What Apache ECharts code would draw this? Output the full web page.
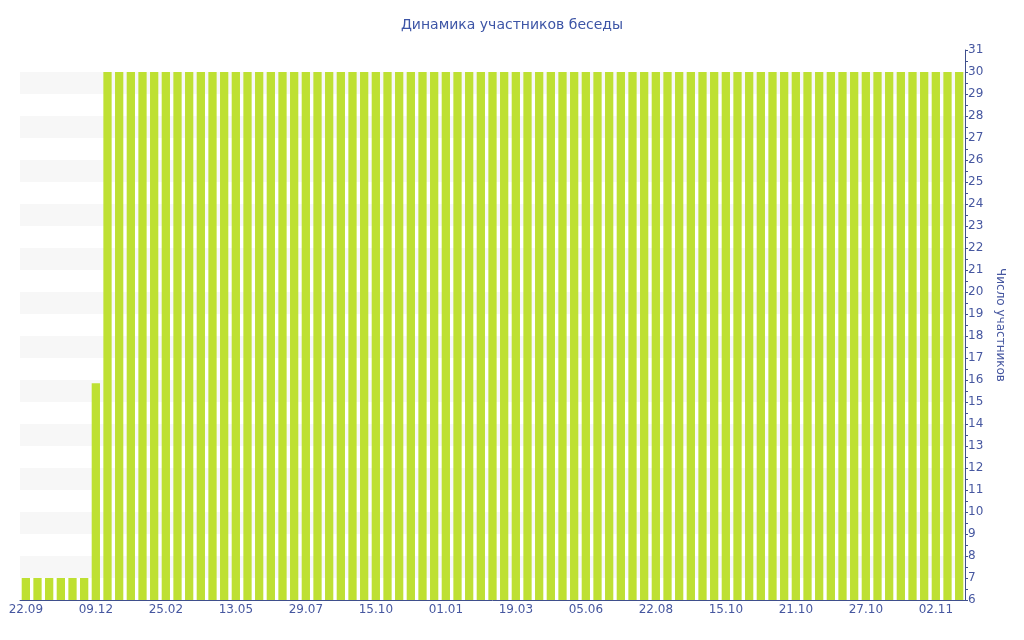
<!DOCTYPE html>
<html>
<head>
<meta charset="utf-8">
<script src="https://cdn.jsdelivr.net/npm/echarts@6/dist/echarts.min.js"></script>
<style>
  html, body { margin: 0; padding: 0; background: #fff; }
  #chart { width: 1024px; height: 640px; }
</style>
</head>
<body>
<div id="chart"></div>
<script>
// labels shown on the x axis, one every 6 bars
const tickLabels = ['22.09', '09.12', '25.02', '13.05', '29.07', '15.10', '01.01',
  '19.03', '05.06', '22.08', '15.10', '21.10', '27.10', '02.11'];
const members = [
  7, 7, 7, 7, 7, 7, 15.85,
  30, 30, 30, 30, 30, 30, 30, 30, 30, 30,
  30, 30, 30, 30, 30, 30, 30, 30, 30, 30,
  30, 30, 30, 30, 30, 30, 30, 30, 30, 30,
  30, 30, 30, 30, 30, 30, 30, 30, 30, 30,
  30, 30, 30, 30, 30, 30, 30, 30, 30, 30,
  30, 30, 30, 30, 30, 30, 30, 30, 30, 30,
  30, 30, 30, 30, 30, 30, 30, 30, 30, 30,
  30, 30, 30, 30
];
const categories = members.map((_, i) => String(i));

const blue = '#4657a0';
const chart = echarts.init(document.getElementById('chart'));
chart.setOption({
  animation: false,
  textStyle: { fontFamily: 'DejaVu Sans' },
  title: {
    text: 'Динамика участников беседы',
    left: 'center',
    top: 13,
    textStyle: { color: '#3d55a6', fontSize: 14, fontWeight: 'normal', fontFamily: 'DejaVu Sans' },
  },
  grid: { left: 20, right: 59, top: 50, bottom: 40 },
  xAxis: {
    type: 'category',
    data: categories,
    axisLine: { lineStyle: { color: '#3f4f8c' } },
    axisTick: { alignWithLabel: true, interval: 5, length: 5, lineStyle: { color: '#3f4f8c' } },
    axisLabel: {
      interval: 5,
      color: blue,
      fontSize: 12,
      margin: 4,
      formatter: (v, i) => tickLabels[i / 6] || '',
    },
  },
  yAxis: {
    type: 'value',
    position: 'right',
    min: 6,
    max: 31,
    interval: 1,
    name: 'Число участников',
    nameLocation: 'middle',
    nameRotate: -90,
    nameGap: 26,
    nameTextStyle: { color: blue, fontSize: 12 },
    axisLine: { show: true, lineStyle: { color: '#3f4f8c' } },
    axisTick: { show: true, length: 3, lineStyle: { color: '#3f4f8c' } },
    minorTick: { show: true, splitNumber: 2, length: 3, lineStyle: { color: '#3f4f8c' } },
    axisLabel: { color: blue, fontSize: 12, margin: 3, padding: [3, 0, 0, 0] },
    splitLine: { show: false },
    splitArea: { show: true, areaStyle: { color: ['rgba(255,255,255,0)', '#f7f7f7'] } },
  },
  series: [{
    type: 'bar',
    data: members,
    barWidth: '71%',
    itemStyle: { color: '#bee032' },
  }],
});
</script>
</body>
</html>
